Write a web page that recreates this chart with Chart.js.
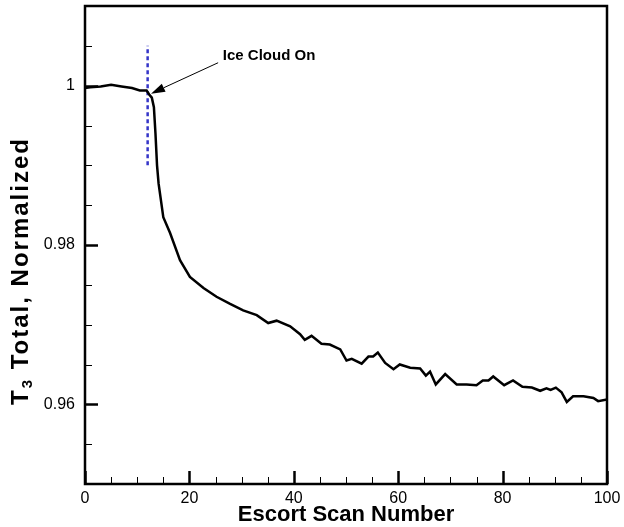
<!DOCTYPE html>
<html lang="en">
<head>
  <meta charset="UTF-8">
  <title>T3 Total, Normalized vs Escort Scan Number</title>
  <script src="https://cdn.jsdelivr.net/npm/chart.js"></script>
  <style>
    html, body { margin: 0; padding: 0; background: #fff; }
    #wrap { width: 624px; height: 527px; position: relative; }
  </style>
</head>
<body>
  <div id="wrap"><canvas id="t3Chart" width="624" height="527"></canvas></div>
  <script>
    // scan numbers and normalized T3 readings
    const scanNumber = [0, 1, 3, 5, 7, 9, 10.5, 11.8, 12.3, 12.8, 13.2, 13.5, 13.8, 14.1, 15, 16.3, 18.2, 20.1,
      22.7, 25.2, 27.8, 30.3, 32.9, 35.1, 36.7, 39.3, 41.2, 42.1, 43.4, 45.3, 46.9, 48.9, 50.1, 51.1, 53.0,
      54.3, 55.2, 56.1, 57.5, 59.1, 60.3, 62.3, 64.2, 65.3, 66.1, 67.2, 69.0, 71.2, 73.1, 75.0, 76.2, 77.3,
      78.2, 80.3, 82.0, 83.8, 85.6, 87.2, 88.4, 89.2, 90.2, 91.3, 92.3, 93.5, 95.5, 97.4, 98.3, 100];
    const t3Total = [0.9997, 0.9998, 0.9999, 1.0001, 0.9999, 0.9997, 0.9994, 0.9994, 0.9989, 0.9985, 0.9973,
      0.9940, 0.9900, 0.9877, 0.9835, 0.9815, 0.9781, 0.9760, 0.9746, 0.9735, 0.9726, 0.9718, 0.9712, 0.9702,
      0.9705, 0.9698, 0.9688, 0.9681, 0.9686, 0.9676, 0.9675, 0.9669, 0.9655, 0.9657, 0.9651, 0.9660, 0.9660,
      0.9665, 0.9652, 0.9644, 0.9650, 0.9646, 0.9645, 0.9636, 0.9641, 0.9625, 0.9638, 0.9625, 0.9625, 0.9624,
      0.9630, 0.9630, 0.9635, 0.9624, 0.9630, 0.9622, 0.9621, 0.9617, 0.9620, 0.9618, 0.9621, 0.9615, 0.9603,
      0.9610, 0.9610, 0.9608, 0.9604, 0.9606];

    // ice cloud switch-on marker (vertical dashed line)
    const iceOnScan = [12, 12];
    const iceOnRange = [0.990, 1.005];

    // axis ticks
    const xTickValues = [0, 20, 40, 60, 80, 100];
    const yTickValues = [0.96, 0.98, 1.0];
    const xRange = [0, 100];
    const yRange = [0.95, 1.01];

    // annotation: arrow from label to the curve
    const noteText = 'Ice Cloud On';
    const noteTip = [12.64, 0.9990];
    const noteTail = [25.5, 1.00288];
    const noteAt = [26.4, 1.00375];

    const FONT = '"Liberation Sans", Arial, sans-serif';

    const toPoints = (xs, ys) => xs.map((x, i) => ({ x: x, y: ys[i] }));

    // frame, inward ticks, titles and the arrow note
    const decorations = {
      id: 'decorations',
      afterDraw(chart) {
        const ctx = chart.ctx;
        const area = chart.chartArea;
        const xs = chart.scales.x;
        const ys = chart.scales.y;
        ctx.save();
        ctx.strokeStyle = '#000';
        ctx.lineCap = 'butt';

        // minor + major ticks on the left axis
        for (let i = 0; i <= 12; i++) {
          const v = yRange[0] + i * 0.005;
          const major = yTickValues.some(t => Math.abs(t - v) < 1e-7);
          const py = Math.round(ys.getPixelForValue(v)) + 0.5;
          ctx.lineWidth = major ? 2.5 : 1;
          ctx.beginPath();
          ctx.moveTo(area.left, py);
          ctx.lineTo(area.left + (major ? 13 : 7), py);
          ctx.stroke();
        }
        // minor + major ticks on the bottom axis
        for (let i = 0; i <= 20; i++) {
          const v = i * 5;
          const major = xTickValues.includes(v);
          const px = Math.round(xs.getPixelForValue(v)) + 0.5;
          ctx.lineWidth = major ? 2.5 : 1;
          ctx.beginPath();
          ctx.moveTo(px, area.bottom);
          ctx.lineTo(px, area.bottom - (major ? 13 : 7));
          ctx.stroke();
        }

        // plot frame
        ctx.lineWidth = 2.5;
        ctx.strokeRect(area.left, area.top, area.right - area.left, area.bottom - area.top);

        // arrow
        const tx = xs.getPixelForValue(noteTip[0]), ty = ys.getPixelForValue(noteTip[1]);
        const sx = xs.getPixelForValue(noteTail[0]), sy = ys.getPixelForValue(noteTail[1]);
        const ang = Math.atan2(ty - sy, tx - sx);
        const headLen = 14, headW = 4.5;
        const bx = tx - headLen * Math.cos(ang), by = ty - headLen * Math.sin(ang);
        ctx.lineWidth = 1;
        ctx.beginPath();
        ctx.moveTo(sx, sy);
        ctx.lineTo(bx, by);
        ctx.stroke();
        ctx.fillStyle = '#000';
        ctx.beginPath();
        ctx.moveTo(tx, ty);
        ctx.lineTo(bx + headW * Math.sin(ang), by - headW * Math.cos(ang));
        ctx.lineTo(bx - headW * Math.sin(ang), by + headW * Math.cos(ang));
        ctx.closePath();
        ctx.fill();

        // note text
        ctx.font = 'bold 15px ' + FONT;
        ctx.textAlign = 'left';
        ctx.textBaseline = 'middle';
        ctx.fillText(noteText, xs.getPixelForValue(noteAt[0]), ys.getPixelForValue(noteAt[1]));

        // x title
        ctx.font = 'bold 22px ' + FONT;
        ctx.textAlign = 'center';
        ctx.textBaseline = 'middle';
        ctx.fillText('Escort Scan Number', (area.left + area.right) / 2, 515);

        // y title with subscript
        ctx.translate(20, 271);
        ctx.rotate(-Math.PI / 2);
        ctx.letterSpacing = '2px';
        const big = 'bold 24px ' + FONT, small = 'bold 15px ' + FONT;
        const partA = 'T', sub = '3', partB = ' Total, Normalized';
        ctx.font = big; const wA = ctx.measureText(partA).width, wB = ctx.measureText(partB).width;
        ctx.font = small; const wS = ctx.measureText(sub).width;
        let cx = -(wA + wS + wB) / 2;
        ctx.textAlign = 'left';
        ctx.textBaseline = 'alphabetic';
        ctx.font = big; ctx.fillText(partA, cx, 8); cx += wA;
        ctx.font = small; ctx.fillText(sub, cx, 12); cx += wS;
        ctx.font = big; ctx.fillText(partB, cx, 8);
        ctx.restore();
      }
    };

    const ctx = document.getElementById('t3Chart').getContext('2d');
    new Chart(ctx, {
      type: 'line',
      data: {
        datasets: [
          {
            label: 'T3 Total',
            data: toPoints(scanNumber, t3Total),
            borderColor: '#000',
            borderWidth: 2.5,
            pointRadius: 0,
            tension: 0
          },
          {
            label: 'Ice Cloud On',
            data: toPoints(iceOnScan, iceOnRange),
            borderColor: '#3535c8',
            borderWidth: 2.5,
            borderDash: [4, 3],
            pointRadius: 0
          }
        ]
      },
      options: {
        responsive: false,
        animation: false,
        layout: { padding: { top: 6, right: 17, left: 0, bottom: 0 } },
        plugins: { legend: { display: false }, tooltip: { enabled: false } },
        scales: {
          x: {
            type: 'linear',
            min: xRange[0],
            max: xRange[1],
            afterBuildTicks: (axis) => { axis.ticks = xTickValues.map(v => ({ value: v })); },
            afterFit: (axis) => { axis.height = 43; axis.paddingLeft = 0; axis.paddingRight = 0; },
            grid: { display: false, drawTicks: false },
            border: { display: false },
            ticks: { color: '#000', font: { family: FONT, size: 16 }, padding: 5, maxRotation: 0 }
          },
          y: {
            type: 'linear',
            min: yRange[0],
            max: yRange[1],
            afterBuildTicks: (axis) => { axis.ticks = yTickValues.map(v => ({ value: v })); },
            afterFit: (axis) => { axis.width = 85; axis.paddingTop = 0; axis.paddingBottom = 0; },
            grid: { display: false, drawTicks: false },
            border: { display: false },
            ticks: {
              color: '#000',
              font: { family: FONT, size: 16 },
              padding: 10,
              callback: (v) => String(parseFloat(Number(v).toFixed(2)))
            }
          }
        }
      },
      plugins: [decorations]
    });
  </script>
</body>
</html>
